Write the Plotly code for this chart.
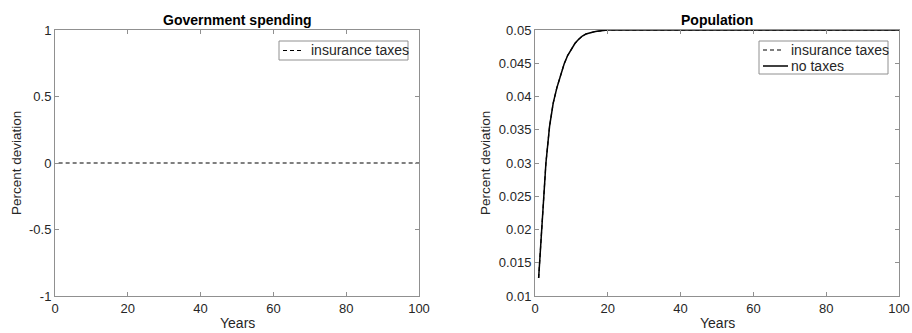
import plotly.graph_objects as go

# ---- data ----
gov_years = list(range(1, 101))
gov_insurance = [0.0] * 100

pop_years = list(range(1, 21)) + [30, 40, 50, 60, 70, 80, 90, 100]
pop_values = [0.0127, 0.0218, 0.0300, 0.0355, 0.0390, 0.0413, 0.0432, 0.0449,
              0.0462, 0.0472, 0.0480, 0.0486, 0.0491, 0.0494, 0.0496, 0.0497,
              0.0498, 0.0499, 0.04995, 0.0500,
              0.05, 0.05, 0.05, 0.05, 0.05, 0.05, 0.05, 0.05]
pop_insurance = pop_values
pop_notax = pop_values

x_ticks = [0, 20, 40, 60, 80, 100]
left_yticks = [-1, -0.5, 0, 0.5, 1]
left_yticklabels = ["-1", "-0.5", "0", "0.5", "1"]
right_yticks = [0.01, 0.015, 0.02, 0.025, 0.03, 0.035, 0.04, 0.045, 0.05]
right_yticklabels = ["0.01", "0.015", "0.02", "0.025", "0.03", "0.035", "0.04", "0.045", "0.05"]

FONT = "Liberation Sans, Arial, Helvetica, sans-serif"
TXT = "#262626"
AX = "#909090"
W, H = 912, 333
DASH = "4px,3px"

def px(x):
    return x / W

def py(y):
    return 1 - y / H

fig = go.Figure()

fig.add_trace(go.Scatter(x=gov_years, y=gov_insurance, mode="lines", name="insurance taxes",
                         line=dict(color="black", width=1.2, dash=DASH),
                         xaxis="x", yaxis="y", showlegend=False))
fig.add_trace(go.Scatter(x=pop_years, y=pop_insurance, mode="lines", name="insurance taxes",
                         line=dict(color="black", width=1.2, dash=DASH),
                         xaxis="x2", yaxis="y2", showlegend=False))
fig.add_trace(go.Scatter(x=pop_years, y=pop_notax, mode="lines", name="no taxes",
                         line=dict(color="black", width=1.5),
                         xaxis="x2", yaxis="y2", showlegend=False))

axis_common = dict(showline=True, linecolor=AX, linewidth=1, mirror="ticks",
                   ticks="inside", ticklen=4, tickcolor=AX, showgrid=False, zeroline=False,
                   automargin=False,
                   tickfont=dict(family=FONT, size=13, color=TXT))

ytop, ybot = py(30), py(296)

fig.update_layout(
    width=W, height=H,
    margin=dict(l=0, r=0, t=0, b=0, autoexpand=False),
    paper_bgcolor="white", plot_bgcolor="white",
    font=dict(family=FONT, color=TXT),
    showlegend=False,
    xaxis=dict(domain=[px(55), px(419)], range=[0, 100], tickvals=x_ticks,
               anchor="y", **axis_common),
    yaxis=dict(domain=[ybot, ytop], range=[-1, 1], tickvals=left_yticks,
               ticktext=left_yticklabels, anchor="x", **axis_common),
    xaxis2=dict(domain=[px(535), px(899)], range=[0, 100], tickvals=x_ticks,
                anchor="y2", **axis_common),
    yaxis2=dict(domain=[ybot, ytop], range=[0.01, 0.05], tickvals=right_yticks,
                ticktext=right_yticklabels, anchor="x2", **axis_common),
)

# ---- legends (drawn as boxes + samples + text) ----
shapes = []
annotations = []

def legend_box(x0, x1, y0, y1):
    shapes.append(dict(type="rect", xref="paper", yref="paper",
                       x0=px(x0), x1=px(x1), y0=py(y1), y1=py(y0),
                       line=dict(color=AX, width=1), fillcolor="white", layer="above"))

def legend_item(xs0, xs1, yc, dash, width, label, xt):
    shapes.append(dict(type="line", xref="paper", yref="paper",
                       x0=px(xs0), x1=px(xs1), y0=py(yc), y1=py(yc),
                       line=dict(color="black", width=width, dash=dash), layer="above"))
    annotations.append(dict(text=label, x=px(xt), y=py(yc), xanchor="left", yanchor="middle",
                            font=dict(size=14, color=TXT)))

legend_box(279, 408, 41, 60)
legend_item(283, 304, 50.5, DASH, 1.2, "insurance taxes", 309)

legend_box(759, 888, 41, 74)
legend_item(763, 784, 50, DASH, 1.2, "insurance taxes", 789)
legend_item(763, 788, 66, "solid", 1.5, "no taxes", 789)

annotations += [
    dict(text="<b>Government spending</b>", x=px(237), y=py(20), font=dict(size=14, color="black")),
    dict(text="<b>Population</b>", x=px(717), y=py(20), font=dict(size=14, color="black")),
    dict(text="Years", x=px(237), y=0, yanchor="bottom", font=dict(size=14, color=TXT)),
    dict(text="Years", x=px(717), y=0, yanchor="bottom", font=dict(size=14, color=TXT)),
    dict(text="Percent deviation", x=px(16), y=py(163), textangle=-90, font=dict(size=13.5, color=TXT)),
    dict(text="Percent deviation", x=px(485), y=py(163), textangle=-90, font=dict(size=13.5, color=TXT)),
]
for a in annotations:
    a.setdefault("xanchor", "center")
    a.setdefault("yanchor", "middle")
    a.update(xref="paper", yref="paper", showarrow=False)
    a["font"]["family"] = FONT
fig.update_layout(annotations=annotations, shapes=shapes)

fig.write_html("out.html", config={"displayModeBar": False},
               post_script="document.body.style.margin='0px';")
